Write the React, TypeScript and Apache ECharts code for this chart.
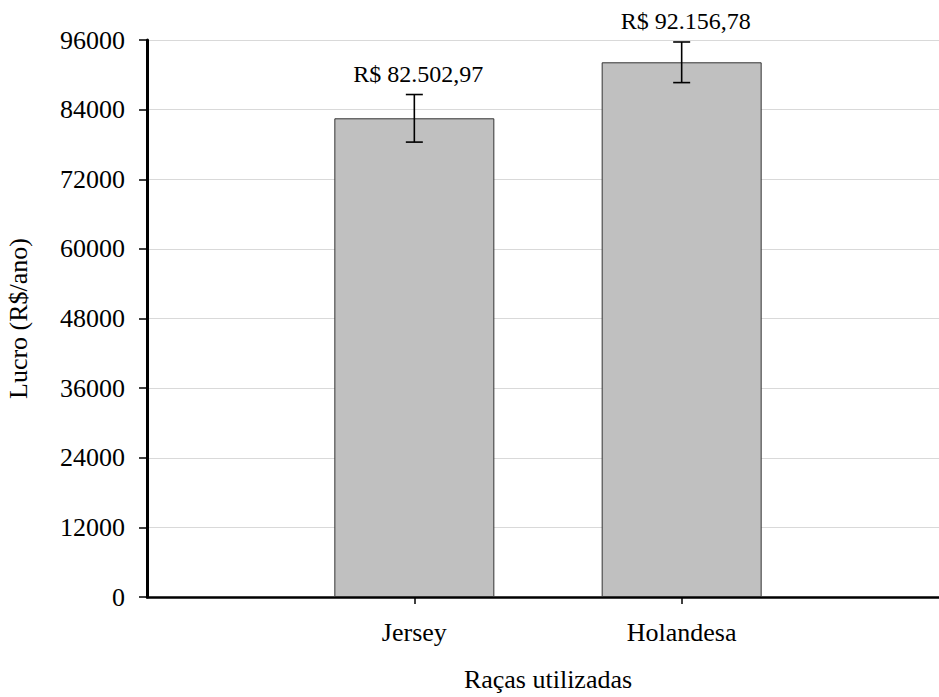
import React, { useEffect, useRef } from "react";
import * as echarts from "echarts";

const categories = ["", "Jersey", "Holandesa", ""];
const profit = [null, 82502.97, 92156.78, null];
const errors = [null, 4100, 3500, null];
const yTicks = [0, 12000, 24000, 36000, 48000, 60000, 72000, 84000, 96000];

const FONT = "Liberation Serif";

function formatBRL(v: number): string {
  const fixed = v.toFixed(2);
  const [intPart, dec] = fixed.split(".");
  const withDots = intPart.replace(/\B(?=(\d{3})+(?!\d))/g, ".");
  return "R$ " + withDots + "," + dec;
}

export default function App() {
  const ref = useRef<HTMLDivElement>(null);

  useEffect(() => {
    if (!ref.current) return;
    const chart = echarts.init(ref.current, null, { renderer: "svg" });

    const errData: any[] = [];
    profit.forEach((v, i) => {
      if (v != null && errors[i] != null) errData.push([i, v, errors[i]]);
    });

    const option: any = {
      animation: false,
      backgroundColor: "#ffffff",
      textStyle: { fontFamily: FONT },
      grid: {
        left: 147,
        width: 802,
        top: 40,
        bottom: 100,
        containLabel: false,
        outerBoundsMode: "none",
      },
      xAxis: {
        type: "category",
        data: categories,
        boundaryGap: false,
        name: "Raças utilizadas",
        nameLocation: "middle",
        nameGap: 69,
        nameTextStyle: { fontFamily: FONT, fontSize: 26, color: "#000" },
        axisLine: { show: true, lineStyle: { color: "#000", width: 2.5 } },
        axisTick: {
          show: true,
          length: 7,
          interval: (idx: number) => idx === 1 || idx === 2,
          lineStyle: { color: "#000", width: 1.5 },
        },
        axisLabel: {
          interval: 0,
          margin: 22,
          fontFamily: FONT,
          fontSize: 26,
          color: "#000",
        },
        splitLine: { show: false },
      },
      yAxis: {
        type: "value",
        min: yTicks[0],
        max: yTicks[yTicks.length - 1],
        interval: yTicks[1] - yTicks[0],
        name: "Lucro (R$/ano)",
        nameLocation: "middle",
        nameGap: 116,
        nameTextStyle: { fontFamily: FONT, fontSize: 26, color: "#000" },
        axisLine: { show: true, lineStyle: { color: "#000", width: 3 } },
        axisTick: { show: true, length: 8, lineStyle: { color: "#000", width: 1.5 } },
        axisLabel: {
          margin: 22,
          fontFamily: FONT,
          fontSize: 26,
          color: "#000",
          formatter: (v: number) => String(v),
        },
        splitLine: { show: true, lineStyle: { color: "#d9d9d9", width: 1 } },
      },
      series: [
        {
          type: "bar",
          data: profit,
          barWidth: 160,
          itemStyle: { color: "#c0c0c0", borderColor: "#333333", borderWidth: 1 },
          z: 2,
        },
        {
          type: "custom",
          data: errData,
          z: 5,
          renderItem: (params: any, api: any) => {
            const idx = api.value(0);
            const mean = api.value(1);
            const err = api.value(2);
            const top = api.coord([idx, mean + err]);
            const bottom = api.coord([idx, mean - err]);
            const x = top[0];
            const half = 8.5;
            const style = { stroke: "#000", lineWidth: 1.6 };
            return {
              type: "group",
              children: [
                { type: "line", shape: { x1: x, y1: top[1], x2: x, y2: bottom[1] }, style },
                { type: "line", shape: { x1: x - half, y1: top[1], x2: x + half, y2: top[1] }, style },
                { type: "line", shape: { x1: x - half, y1: bottom[1], x2: x + half, y2: bottom[1] }, style },
                {
                  type: "text",
                  x: x + 4,
                  y: top[1] - 9,
                  style: {
                    text: formatBRL(mean),
                    fontFamily: FONT,
                    fontSize: 24,
                    fill: "#000",
                    align: "center",
                    verticalAlign: "bottom",
                  },
                },
              ],
            };
          },
        },
      ],
    };

    chart.setOption(option);
    return () => chart.dispose();
  }, []);

  return (
    <div
      ref={ref}
      style={{ position: "absolute", left: 0, top: 0, width: 939, height: 697 }}
    />
  );
}
